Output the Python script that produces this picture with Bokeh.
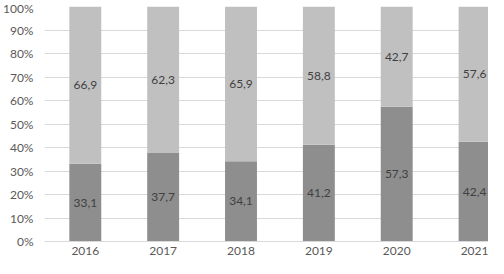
from bokeh.plotting import figure
from bokeh.models import ColumnDataSource, FixedTicker, NumeralTickFormatter, Range1d
from bokeh.core.properties import value
from bokeh.embed import file_html
from bokeh.resources import INLINE

years = ["2016", "2017", "2018", "2019", "2020", "2021"]
lower = [33.1, 37.7, 34.1, 41.2, 57.3, 42.4]
upper = [66.9, 62.3, 65.9, 58.8, 42.7, 57.6]
y_ticks = [0, 10, 20, 30, 40, 50, 60, 70, 80, 90, 100]

FONT = "Lato"
DARK = "#8e8e8e"
LIGHT = "#c0c0c0"

xs = list(range(len(years)))
src = ColumnDataSource(dict(
    x=xs,
    low_top=[v / 100 for v in lower],
    up_top=[(a + b) / 100 for a, b in zip(lower, upper)],
    low_mid=[v / 200 for v in lower],
    up_mid=[(a + b / 2) / 100 for a, b in zip(lower, upper)],
    low_lbl=[f"{v:.1f}".replace(".", ",") for v in lower],
    up_lbl=[f"{v:.1f}".replace(".", ",") for v in upper],
))

p = figure(width=488, height=258, output_backend="svg", toolbar_location=None,
           x_range=Range1d(-0.524, 5.179), y_range=Range1d(0, 1),
           min_border_left=42, min_border_right=0, min_border_top=6, min_border_bottom=17)
p.outline_line_color = None
p.background_fill_color = "white"

p.vbar(x="x", bottom=0, top="low_top", width=0.41, source=src, fill_color=DARK, line_color=None)
p.vbar(x="x", bottom="low_top", top="up_top", width=0.41, source=src, fill_color=LIGHT, line_color=None)

p.text(x="x", y="low_mid", text="low_lbl", source=src, text_align="center", text_baseline="middle",
       text_font=value(FONT), text_font_size="12px", text_color="#404040")
p.text(x="x", y="up_mid", text="up_lbl", source=src, text_align="center", text_baseline="middle",
       text_font=value(FONT), text_font_size="12px", text_color="#404040")

p.xgrid.grid_line_color = None
p.ygrid.grid_line_color = "#d9d9d9"
p.ygrid.grid_line_width = 1
p.yaxis.ticker = FixedTicker(ticks=[t / 100 for t in y_ticks])
p.yaxis.formatter = NumeralTickFormatter(format="0%")
p.xaxis.ticker = FixedTicker(ticks=xs)
p.xaxis.major_label_overrides = {i: y for i, y in enumerate(years)}

for ax in (p.xaxis, p.yaxis):
    ax.major_tick_line_color = None
    ax.minor_tick_line_color = None
    ax.major_tick_out = 0
    ax.major_tick_in = 0
    ax.major_label_text_font = FONT
    ax.major_label_text_font_size = "12px"
    ax.major_label_text_color = "#595959"
p.yaxis.axis_line_color = None
p.yaxis.major_label_standoff = 11
p.xaxis.axis_line_color = "#d9d9d9"
p.xaxis.major_label_standoff = 5

open("out.html", "w").write(file_html(p, INLINE))
